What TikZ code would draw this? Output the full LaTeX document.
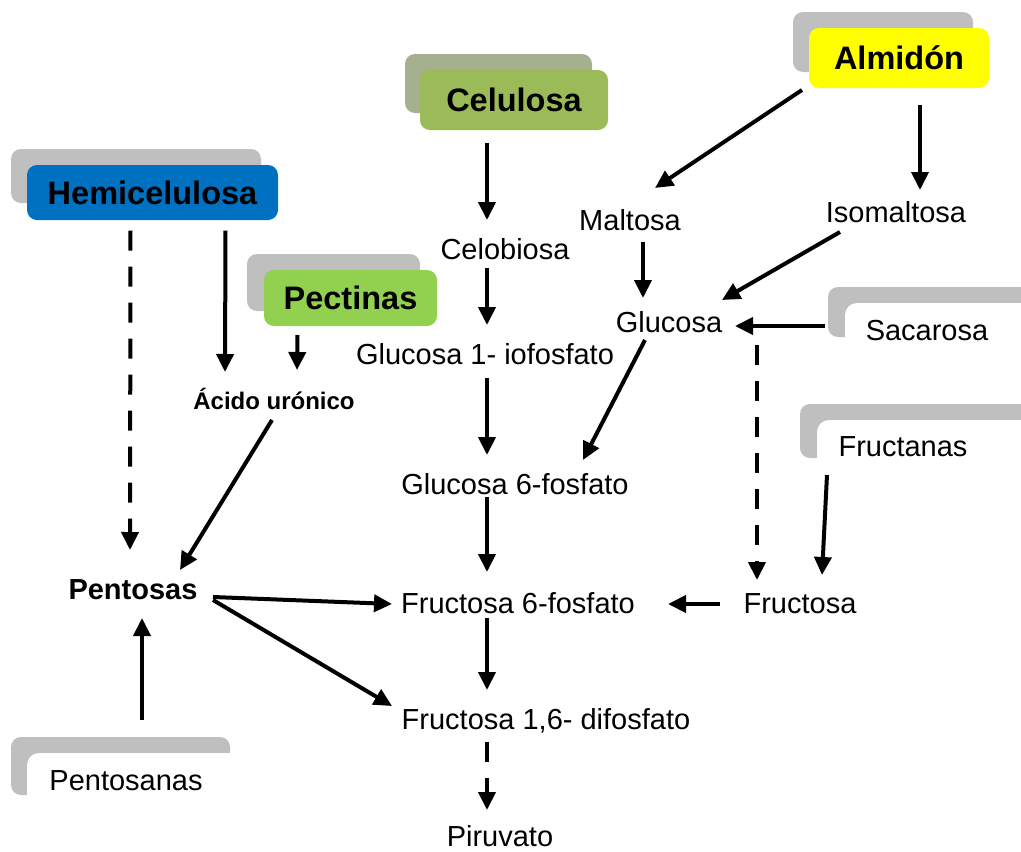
\documentclass[tikz,border=0pt]{standalone}
\usepackage{fontspec}
\setmainfont{Liberation Sans}
\usetikzlibrary{arrows.meta,calc}
\definecolor{grayback}{RGB}{191,191,191}
\definecolor{olivegray}{RGB}{166,176,143}
\definecolor{hemiblue}{RGB}{0,112,192}
\definecolor{pectgreen}{RGB}{146,208,80}
\definecolor{celgreen}{RGB}{155,187,89}
\definecolor{almyellow}{RGB}{255,255,0}
\begin{document}
\begin{tikzpicture}[x=1pt,y=-1pt,
 lbl/.style={inner sep=0pt, font=\fontsize{29}{34}\selectfont},
 blbl/.style={inner sep=0pt, font=\fontsize{29}{34}\selectfont\bfseries},
 boxlbl/.style={rounded corners=10pt, inner sep=0pt, font=\fontsize{32.5}{37}\selectfont\bfseries},
 backbox/.style={fill=grayback, rounded corners=10pt},
 arr/.style={line width=4pt, -{Triangle[length=18pt,width=17pt]}},
 darr/.style={arr, dash pattern=on 20pt off 16pt},
]
\useasboundingbox (0,0) rectangle (1021,852);
\fill[white] (0,0) rectangle (1021,852);

% colored boxes
\fill[backbox] (11,149) rectangle (261,203);
\node[boxlbl, fill=hemiblue, minimum width=251pt, minimum height=55pt] (hemi) at (152.5,192.5) {Hemicelulosa};
\fill[backbox] (247,254) rectangle (420,311);
\node[boxlbl, fill=pectgreen, minimum width=173pt, minimum height=56pt] (pect) at (350.5,298) {Pectinas};
\fill[backbox, fill=olivegray] (405,54) rectangle (592,113);
\node[boxlbl, fill=celgreen, minimum width=188pt, minimum height=60pt] (cel) at (514,100) {Celulosa};
\fill[backbox] (793,12) rectangle (973,72);
\node[boxlbl, fill=almyellow, minimum width=180pt, minimum height=60pt] (alm) at (899,58) {Almidón};

% open gray frames
\fill[backbox] (828,287) rectangle (1045,337);
\fill[white, rounded corners=12pt] (845,303) rectangle (1060,370);
\fill[backbox] (800,404) rectangle (1045,458);
\fill[white, rounded corners=12pt] (817,420) rectangle (1060,490);
\fill[backbox] (11,737) rectangle (230,795);
\fill[white, rounded corners=12pt] (27,753) rectangle (260,830);

% text nodes
\node[lbl] (celob) at (505,249) {Celobiosa};
\node[lbl] (g1p) at (485,354) {Glucosa 1- iofosfato};
\node[lbl] (g6p) at (515,484) {Glucosa 6-fosfato};
\node[lbl] (f6p) at (518,603) {Fructosa 6-fosfato};
\node[lbl] (f16) at (546,721) {Fructosa 1,6- difosfato};
\node[lbl] (pir) at (500,836) {Piruvato};
\node[lbl] (malt) at (630,220) {Maltosa};
\node[lbl] (iso) at (896,212) {Isomaltosa};
\node[lbl] (glu) at (669,322) {Glucosa};
\node[lbl] (sac) at (927,331) {Sacarosa};
\node[lbl] (fruc) at (800,604) {Fructosa};
\node[lbl] (fructanas) at (903,447) {Fructanas};
\node[lbl] (pentosanas) at (126,781) {Pentosanas};
\node[blbl] (pent) at (133,590) {Pentosas};
\node[inner sep=0pt, font=\fontsize{24}{28}\selectfont\bfseries] (acido) at (274,399) {Ácido urónico};

% connectors
\draw[arr] ($(cel)+(-27,43)$) -- ($(celob)+(-18,-29)$);
\draw[arr] ($(celob)+(-18,19)$) -- ($(g1p)+(2,-29)$);
\draw[arr] ($(g1p)+(2,24)$) -- ($(g6p)+(-28,-29)$);
\draw[arr] ($(g6p)+(-28,13)$) -- ($(f6p)+(-31,-31)$);
\draw[arr] ($(f6p)+(-31,15)$) -- ($(f16)+(-59,-31)$);
\draw[darr] ($(f16)+(-59,21)$) -- ($(pir)+(-13,-26)$);
\draw[arr] ($(alm)+(-97,32)$) -- ($(malt)+(25,-32)$);
\draw[arr] ($(alm)+(21,47)$) -- ($(iso)+(24,-22)$);
\draw[arr] ($(malt)+(13,22)$) -- ($(glu)+(-26,-24)$);
\draw[arr] ($(iso)+(-56,20)$) -- ($(glu)+(53,-22)$);
\draw[arr] ($(sac)+(-102,-5)$) -- ($(glu)+(66,4)$);
\draw[arr] ($(glu)+(-24,18)$) -- ($(g6p)+(68,-24)$);
\draw[darr] ($(glu)+(88,23)$) -- ($(fruc)+(-43,-24)$);
\draw[arr] ($(fructanas)+(-76,28)$) -- ($(fruc)+(22,-29)$);
\draw[arr] ($(fruc)+(-80,0)$) -- ($(f6p)+(150,1)$);
\draw[darr] ($(hemi)+(-22,38)$) -- ($(pent)+(-3,-40)$);
\draw[arr] ($(hemi)+(73,38)$) -- ($(acido)+(-49,-27)$);
\draw[arr] ($(pect)+(-53,37)$) -- ($(acido)+(23,-29)$);
\draw[arr] ($(acido)+(-2,21)$) -- ($(pent)+(47,-20)$);
\draw[arr] ($(pent)+(80,7)$) -- ($(f6p)+(-126,1)$);
\draw[arr] ($(pent)+(80,10)$) -- ($(f16)+(-154,-15)$);
\draw[arr] ($(pentosanas)+(16,-61)$) -- ($(pent)+(9,28)$);
\end{tikzpicture}
\end{document}
